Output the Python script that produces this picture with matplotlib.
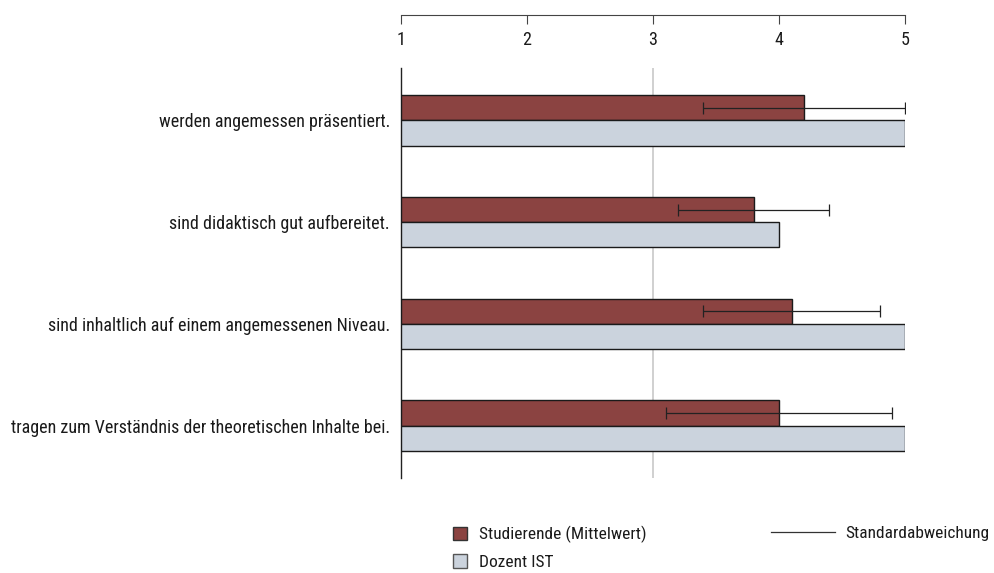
import matplotlib.pyplot as plt
from matplotlib.patches import Patch
from matplotlib.lines import Line2D
import numpy as np

categories = ['werden angemessen präsentiert.',
              'sind didaktisch gut aufbereitet.',
              'sind inhaltlich auf einem angemessenen Niveau.',
              'tragen zum Verständnis der theoretischen Inhalte bei.']
studierende = [4.2, 3.8, 4.1, 4.0]
std_abw = [0.8, 0.6, 0.7, 0.9]
dozent = [5.0, 4.0, 5.0, 5.0]
ticks = [1, 2, 3, 4, 5]

red = '#8B4341'
grey = '#CBD3DD'
plt.rcParams['font.family'] = ['Roboto Condensed', 'DejaVu Sans']
plt.rcParams['text.color'] = '#1a1a1a'
fs = 13
fs_leg = 12.5

W, H = 995, 573
fig = plt.figure(figsize=(W/100, H/100), dpi=100)

# main plot area
ax = fig.add_axes([401/W, 1-478/H, (905-401)/W, (478-68)/H])
y = np.arange(len(categories))
h = 0.247
ax.barh(y - h/2, [v-1 for v in studierende], left=1, height=h, color=red,
        edgecolor='#1a1a1a', linewidth=1.0, zorder=3)
ax.barh(y + h/2, [v-1 for v in dozent], left=1, height=h, color=grey,
        edgecolor='#1a1a1a', linewidth=1.0, zorder=3)
ax.errorbar(studierende, y - h/2, xerr=std_abw, fmt='none', ecolor='#222222',
            elinewidth=0.9, capsize=4, capthick=0.9, zorder=4)
ax.axvline(3, color='#c8c8c8', linewidth=1.2, zorder=1)
ax.set_xlim(1, 5)
ax.set_ylim(len(categories)-0.5+0.015, -0.5-0.015)
ax.set_yticks(y)
ax.set_yticklabels(categories, fontsize=fs, color='#1a1a1a')
ax.tick_params(axis='y', length=0, pad=8)
ax.set_xticks([])
for s in ['top', 'right', 'bottom']:
    ax.spines[s].set_visible(False)
ax.spines['left'].set_color('#222222')
ax.spines['left'].set_linewidth(1.0)

# scale axis on top
sc = fig.add_axes([401/W, 1-15/H, (905-401)/W, 0.001])
sc.set_xlim(1, 5)
sc.set_xticks(ticks)
sc.set_xticklabels([str(t) for t in ticks], fontsize=fs, color='#1a1a1a')
sc.set_yticks([])
for s in ['top', 'right', 'left']:
    sc.spines[s].set_visible(False)
sc.spines['bottom'].set_color('#444444')
sc.tick_params(axis='x', direction='out', length=6.5, color='#444444', pad=5)
sc.patch.set_visible(False)

# legends
h1 = [Patch(facecolor=red, edgecolor='#333333', label='Studierende (Mittelwert)'),
      Patch(facecolor=grey, edgecolor='#555555', label='Dozent IST')]
fig.legend(handles=h1, loc='upper left', bbox_to_anchor=(446/W, 1-519/H),
           frameon=False, fontsize=fs_leg, handlelength=0.8, handleheight=0.8,
           handletextpad=0.7, labelspacing=0.65, borderaxespad=0)
h2 = [Line2D([0], [0], color='#333333', linewidth=0.9, label='Standardabweichung')]
fig.legend(handles=h2, loc='upper left', bbox_to_anchor=(764/W, 1-519/H),
           frameon=False, fontsize=fs_leg, handlelength=3.7,
           handletextpad=0.6, borderaxespad=0)

fig.savefig('out.png', dpi=100)
